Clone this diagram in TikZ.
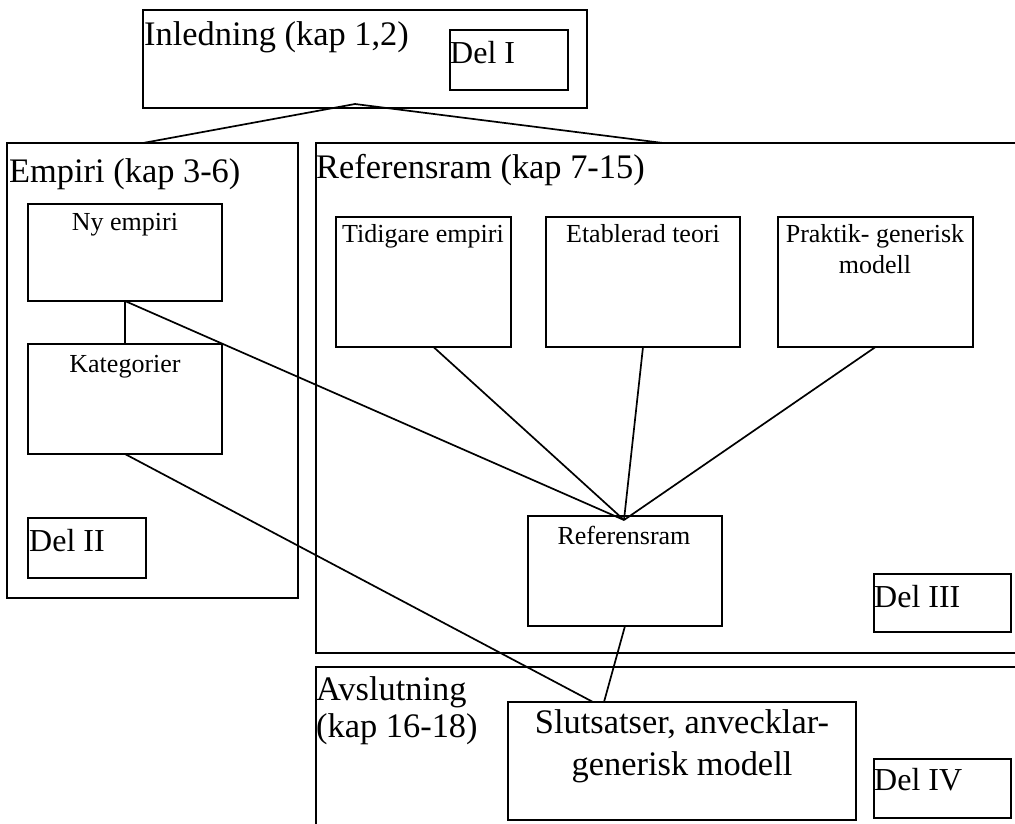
\documentclass[tikz,border=0pt]{standalone}
\usepackage{fontspec}
\setmainfont{Liberation Serif}
\usetikzlibrary{calc}

\tikzset{
  box/.style={draw, line width=1.9pt, inner sep=0pt, outer sep=0pt, anchor=north west},
  link/.style={line width=1.7pt},
  bigtxt/.style={inner sep=0pt, font=\fontsize{34.4}{40}\selectfont},
  deltxt/.style={inner sep=0pt, anchor=base west, font=\fontsize{32}{38}\selectfont},
  smalltxt/.style={inner sep=0pt, anchor=base, font=\fontsize{26}{30}\selectfont},
}

\begin{document}
\begin{tikzpicture}[x=1pt,y=-1pt]
\useasboundingbox (0,0) rectangle (1015,823);
\clip (0,0) rectangle (1015,823);

% frames of the four parts
\node[box, minimum width=444pt, minimum height=98pt]  (inl)    at (143,10)  {};
\node[box, minimum width=118pt, minimum height=60pt]  (delI)   at (450,30)  {};
\node[box, minimum width=291pt, minimum height=455pt] (emp)    at (7,143)   {};
\node[box, minimum width=714pt, minimum height=510pt] (refbig) at (316,143) {};
\node[box, minimum width=714pt, minimum height=180pt] (avsl)   at (316,667) {};

% inner boxes
\node[box, minimum width=194pt, minimum height=97pt]  (nyemp)  at (28,204)  {};
\node[box, minimum width=194pt, minimum height=110pt] (kat)    at (28,344)  {};
\node[box, minimum width=118pt, minimum height=60pt]  (delII)  at (28,518)  {};
\node[box, minimum width=175pt, minimum height=130pt] (tid)    at (336,217) {};
\node[box, minimum width=194pt, minimum height=130pt] (etab)   at (546,217) {};
\node[box, minimum width=195pt, minimum height=130pt] (prak)   at (778,217) {};
\node[box, minimum width=194pt, minimum height=110pt] (ref)    at (528,516) {};
\node[box, minimum width=137pt, minimum height=58pt]  (delIII) at (874,574) {};
\node[box, minimum width=348pt, minimum height=118pt] (slut)   at (508,702) {};
\node[box, minimum width=137pt, minimum height=59pt]  (delIV)  at (874,759) {};

% headings
\node[bigtxt, anchor=base west] (tinl)   at (144,45)  {Inledning (kap 1,2)};
\node[bigtxt, anchor=base west] (temp)   at (9,182)   {Empiri (kap 3-6)};
\node[bigtxt, anchor=base west] (tref)   at (316,178) {Referensram (kap 7-15)};
\node[bigtxt, anchor=base west] (tavs1)  at (316,700) {Avslutning};
\node[bigtxt, anchor=base west] (tavs2)  at (316,737) {(kap 16-18)};
\node[bigtxt, anchor=base] (tslut1) at (682,733) {Slutsatser, anvecklar-};
\node[bigtxt, anchor=base] (tslut2) at (682,775) {generisk modell};

% part labels
\node[deltxt] (tdelI)   at (450,63)  {Del I};
\node[deltxt] (tdelII)  at (29,551)  {Del II};
\node[deltxt] (tdelIII) at (874,607) {Del III};
\node[deltxt] (tdelIV)  at (874,790) {Del IV};

% box captions
\node[smalltxt] (tny)    at (125,230) {Ny empiri};
\node[smalltxt] (tkat)   at (125,372) {Kategorier};
\node[smalltxt] (ttid)   at (423,242) {Tidigare empiri};
\node[smalltxt] (tetab)  at (643,242) {Etablerad teori};
\node[smalltxt] (tprak1) at (875,242) {Praktik- generisk};
\node[smalltxt] (tprak2) at (875,273) {modell};
\node[smalltxt] (trefs)  at (624,544) {Referensram};

% connectors
\coordinate (split) at (355,104);
\coordinate (hub) at (624,520);
\draw[link] (split) -- ($(emp.north west)+(136,0)$);
\draw[link] (split) -- ($(refbig.north west)+(347,0)$);
\draw[link] (nyemp.south) -- (kat.north);
\draw[link] (nyemp.south) -- (hub);
\draw[link] ($(tid.south)+(10,0)$) -- (hub);
\draw[link] (etab.south) -- (hub);
\draw[link] (prak.south) -- (hub);
\draw[link] (kat.south) -- ($(slut.north west)+(85,0)$);
\draw[link] (ref.south) -- ($(slut.north west)+(96,0)$);
\end{tikzpicture}
\end{document}
